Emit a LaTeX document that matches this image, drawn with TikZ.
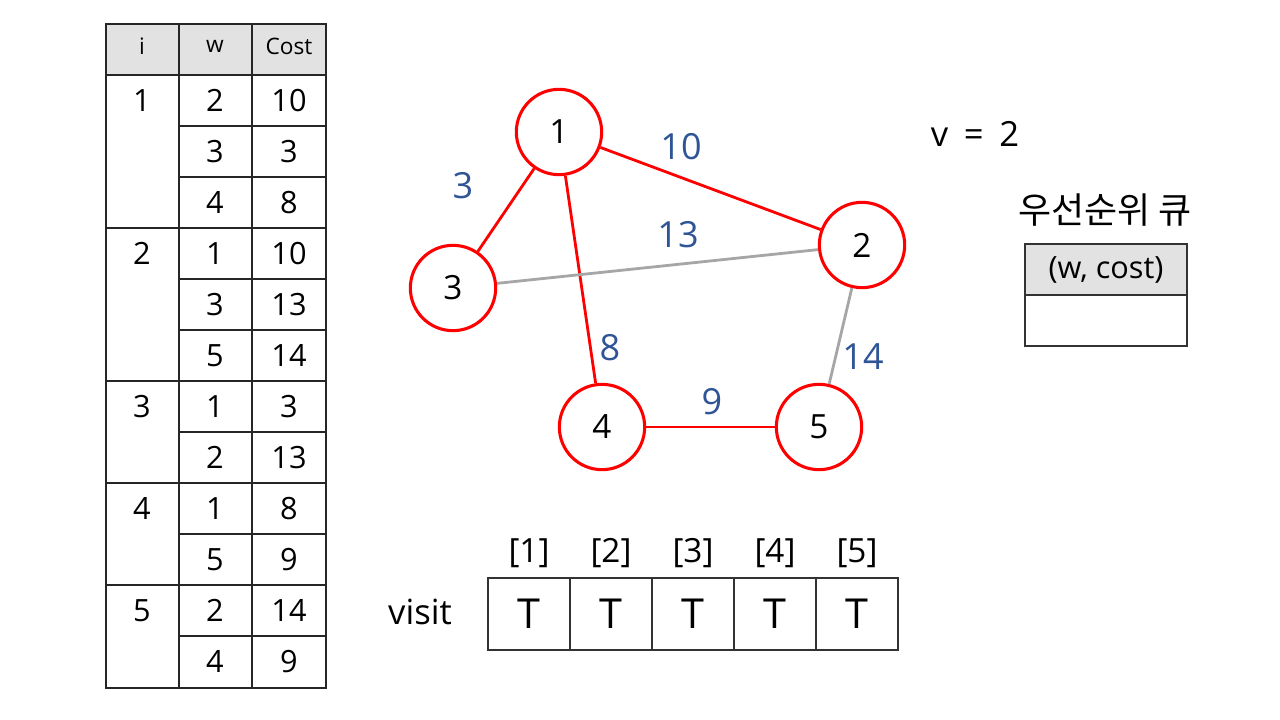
\documentclass[tikz,border=0pt]{standalone}
\usepackage{fontspec}
\setmainfont{Open Sans}
\newfontfamily\krfont{Noto Sans CJK KR}
\definecolor{edgeblue}{HTML}{2F5597}
\definecolor{hdrgray}{HTML}{E2E2E2}
\definecolor{lightedge}{HTML}{A6A6A6}
\begin{document}
\begin{tikzpicture}[x=0.75pt,y=-0.75pt,
  vert/.style={circle,draw=red,line width=2.3pt,minimum size=64pt,inner sep=0pt,font=\fontsize{25}{29}\selectfont},
  redge/.style={draw=red,line width=2.1pt},
  gedge/.style={draw=lightedge,line width=2.1pt},
  wlabel/.style={text=edgeblue,font=\fontsize{27}{32}\selectfont,inner sep=0pt},
  tcell/.style={font=\fontsize{23}{27}\selectfont,inner sep=0pt},
  hcell/.style={font=\fontsize{17}{20}\selectfont,inner sep=0pt},
  vcell/.style={draw=black!80,line width=0.8pt,minimum width=61.5pt,minimum height=54pt,inner sep=0pt,font=\fontsize{31}{35}\selectfont},
  qcell/.style={draw=black!80,line width=0.8pt,minimum width=121.5pt,minimum height=38.25pt,inner sep=0pt,font=\fontsize{23}{27}\selectfont},
  tline/.style={draw=black!85,line width=0.8pt}]
\useasboundingbox (0,0) rectangle (1280,720);
\fill[white] (0,0) rectangle (1280,720);
% ---- adjacency table ----
\fill[hdrgray] (106,24) rectangle (326,75);
\foreach \k in {1,2,4,5,7,9,11} {\draw[tline] (179,75+51*\k) -- (326,75+51*\k);}
\foreach \k in {0,3,6,8,10} {\draw[tline] (106,75+51*\k) -- (326,75+51*\k);}
\draw[tline] (179,24) -- (179,688);
\draw[tline] (252,24) -- (252,688);
\draw[tline] (106,24) rectangle (326,688);
\node[hcell] (hi) at (142,46) {i};
\node[hcell] (hw) at (215,46) {w};
\node[hcell] (hc) at (289,46) {Cost};
\foreach \k/\w/\c in {0/2/10,1/3/3,2/4/8,3/1/10,4/3/13,5/5/14,6/1/3,7/2/13,8/1/8,9/5/9,10/2/14,11/4/9} {
  \node[tcell] (w\k) at (215,100.5+51*\k) {\w};
  \node[tcell] (c\k) at (289,100.5+51*\k) {\c};
}
\node[tcell] (i1) at (142,100.5) {1};
\node[tcell] (i2) at (142,253.5) {2};
\node[tcell] (i3) at (142,406.5) {3};
\node[tcell] (i4) at (142,508.5) {4};
\node[tcell] (i5) at (142,610.5) {5};
% ---- graph ----
\node[vert] (n1) at (559,132) {1};
\node[vert] (n2) at (862,245) {2};
\node[vert] (n3) at (453,288) {3};
\node[vert] (n4) at (602,427) {4};
\node[vert] (n5) at (819,427) {5};
\draw[redge] (n1) -- (n3);
\draw[redge] (n1) -- (n2);
\draw[redge] (n1) -- (n4);
\draw[gedge] (n3) -- (n2);
\draw[gedge] (n2) -- (n5);
\draw[redge] (n4) -- (n5);
\node[wlabel] (l10) at (681,147) {10};
\node[wlabel] (l3) at (463,186) {3};
\node[wlabel] (l13) at (678,235) {13};
\node[wlabel] (l8) at (610,348) {8};
\node[wlabel] (l14) at (863,357) {14};
\node[wlabel] (l9) at (712,402) {9};
% ---- v and queue ----
\node[font=\fontsize{26}{30}\selectfont,inner sep=0pt] (v) at (975,134) {v\hspace{0.45em}=\hspace{0.45em}2};
\node[font=\krfont\fontsize{27}{31}\selectfont,inner sep=0pt] (pq) at (1105,210) {우선순위 큐};
\node[qcell,fill=hdrgray] (q0) at (1106,269.5) {(w, cost)};
\node[qcell] (q1) at (1106,320.5) {};
% ---- visit array ----
\node[font=\fontsize{26}{30}\selectfont,inner sep=0pt] (visit) at (420,612) {visit};
\foreach \j in {1,...,5} {
  \node[vcell] (vc\j) at (447+82*\j,614) {T};
  \node[font=\fontsize{25}{29}\selectfont,inner sep=0pt] (vi\j) at (447+82*\j,553) {[\j]};
}
\end{tikzpicture}
\end{document}
